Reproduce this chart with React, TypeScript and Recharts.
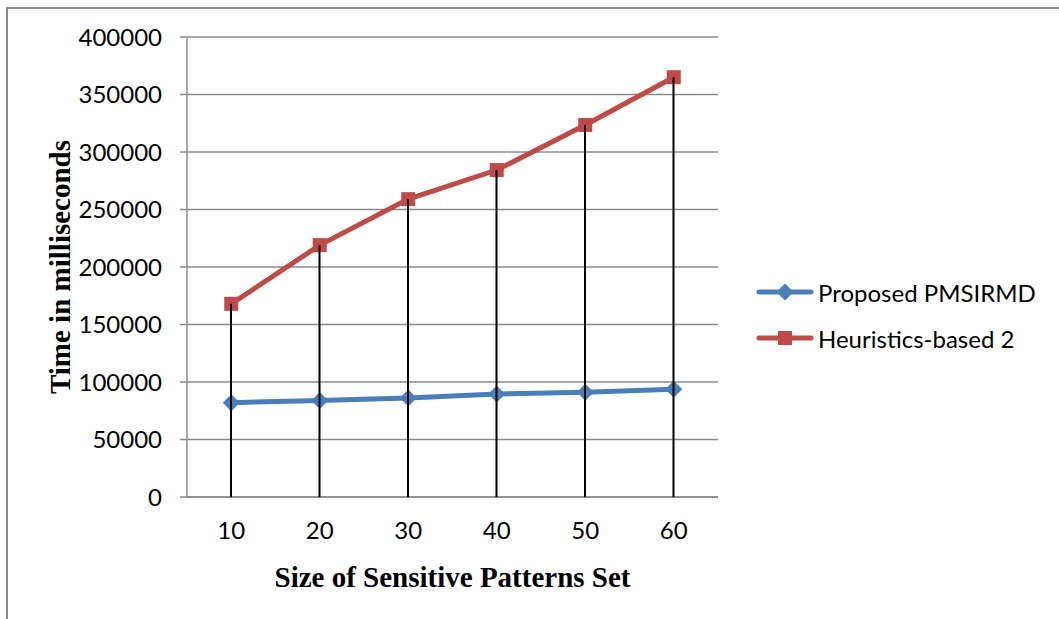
import { Bar, CartesianGrid, ComposedChart, Line, XAxis, YAxis } from "recharts";

const categories = [10, 20, 30, 40, 50, 60];
const proposed = [82000, 84000, 86000, 89500, 91000, 93800];
const heuristics = [168000, 219000, 259000, 284300, 323500, 365000];
const yTicks = [0, 50000, 100000, 150000, 200000, 250000, 300000, 350000, 400000];

const seriesNames = ["Proposed PMSIRMD", "Heuristics-based 2"];
const BLUE = "#4a7ebb";
const RED = "#be4b48";
const GRID = "#8a8a8a";

const data = categories.map((c, i) => ({
  size: c,
  proposed: proposed[i],
  heuristics: heuristics[i],
}));

const Diamond = (props: any) => {
  const { cx, cy } = props;
  if (cx == null || cy == null) return null;
  const r = 8.5;
  return (
    <polygon
      key={`d-${cx}`}
      points={`${cx},${cy - r} ${cx + r},${cy} ${cx},${cy + r} ${cx - r},${cy}`}
      fill={BLUE}
    />
  );
};

const Square = (props: any) => {
  const { cx, cy } = props;
  if (cx == null || cy == null) return null;
  const s = 14;
  return <rect key={`s-${cx}`} x={cx - s / 2} y={cy - s / 2} width={s} height={s} fill={RED} />;
};

const LegendRow = ({ color, name, top, marker }: { color: string; name: string; top: number; marker: "diamond" | "square" }) => (
  <div style={{ position: "absolute", left: 756, top, height: 30, display: "flex", alignItems: "center" }}>
    <svg width={58} height={20}>
      <line x1={3} y1={10} x2={55} y2={10} stroke={color} strokeWidth={5} strokeLinecap="round" />
      {marker === "diamond" ? (
        <polygon points="29,1.5 37.5,10 29,18.5 20.5,10" fill={color} />
      ) : (
        <rect x={22} y={3} width={14} height={14} fill={color} />
      )}
    </svg>
    <span style={{ marginLeft: 4, fontSize: 24, color: "#000" }}>{name}</span>
  </div>
);

export default function App() {
  return (
    <div
      style={{
        position: "absolute",
        left: 0,
        top: 0,
        width: 1059,
        height: 619,
        overflow: "hidden",
        background: "#fff",
        fontFamily: "Lato, sans-serif",
      }}
    >
      <div
        style={{
          position: "absolute",
          left: 6,
          top: 7,
          width: 2000,
          height: 2000,
          borderTop: `2px solid ${GRID}`,
          borderLeft: `2px solid ${GRID}`,
        }}
      />
      <div style={{ position: "absolute", left: 0, top: 0 }}>
        <ComposedChart width={1059} height={619} data={data} margin={{ top: 37, right: 341, bottom: 0, left: 0 }}>
          <CartesianGrid vertical={false} stroke={GRID} strokeWidth={1.5} />
          <XAxis
            dataKey="size"
            height={122}
            stroke={GRID}
            strokeWidth={1.5}
            tickLine={false}
            tickSize={0}
            tickMargin={25}
            tick={{ fill: "#000", fontSize: 24, fontFamily: "Lato" }}
            label={{
              value: "Size of Sensitive Patterns Set",
              position: "center",
              dy: 19,
              fill: "#000",
              fontSize: 29,
              fontWeight: 700,
              fontFamily: "Liberation Serif",
            }}
          />
          <YAxis
            width={187}
            domain={[0, 400000]}
            ticks={yTicks}
            interval={0}
            stroke={GRID}
            strokeWidth={1.5}
            tickSize={7}
            tickMargin={18}
            tick={{ fill: "#000", fontSize: 24, fontFamily: "Lato" }}
            label={{
              value: "Time in milliseconds",
              angle: -90,
              position: "center",
              dx: -34,
              fill: "#000",
              fontSize: 29,
              fontWeight: 700,
              fontFamily: "Liberation Serif",
            }}
          />
          <Line
            dataKey="proposed"
            stroke={BLUE}
            strokeWidth={5}
            dot={Diamond}
            activeDot={false}
            isAnimationActive={false}
          />
          <Line
            dataKey="heuristics"
            stroke={RED}
            strokeWidth={5}
            dot={Square}
            activeDot={false}
            isAnimationActive={false}
          />
          {/* drop lines from the upper series down to the axis */}
          <Bar dataKey="heuristics" fill="#000" barSize={2} isAnimationActive={false} zIndex={700} />
        </ComposedChart>
      </div>
      <LegendRow color={BLUE} name={seriesNames[0]} top={277} marker="diamond" />
      <LegendRow color={RED} name={seriesNames[1]} top={323} marker="square" />
    </div>
  );
}
